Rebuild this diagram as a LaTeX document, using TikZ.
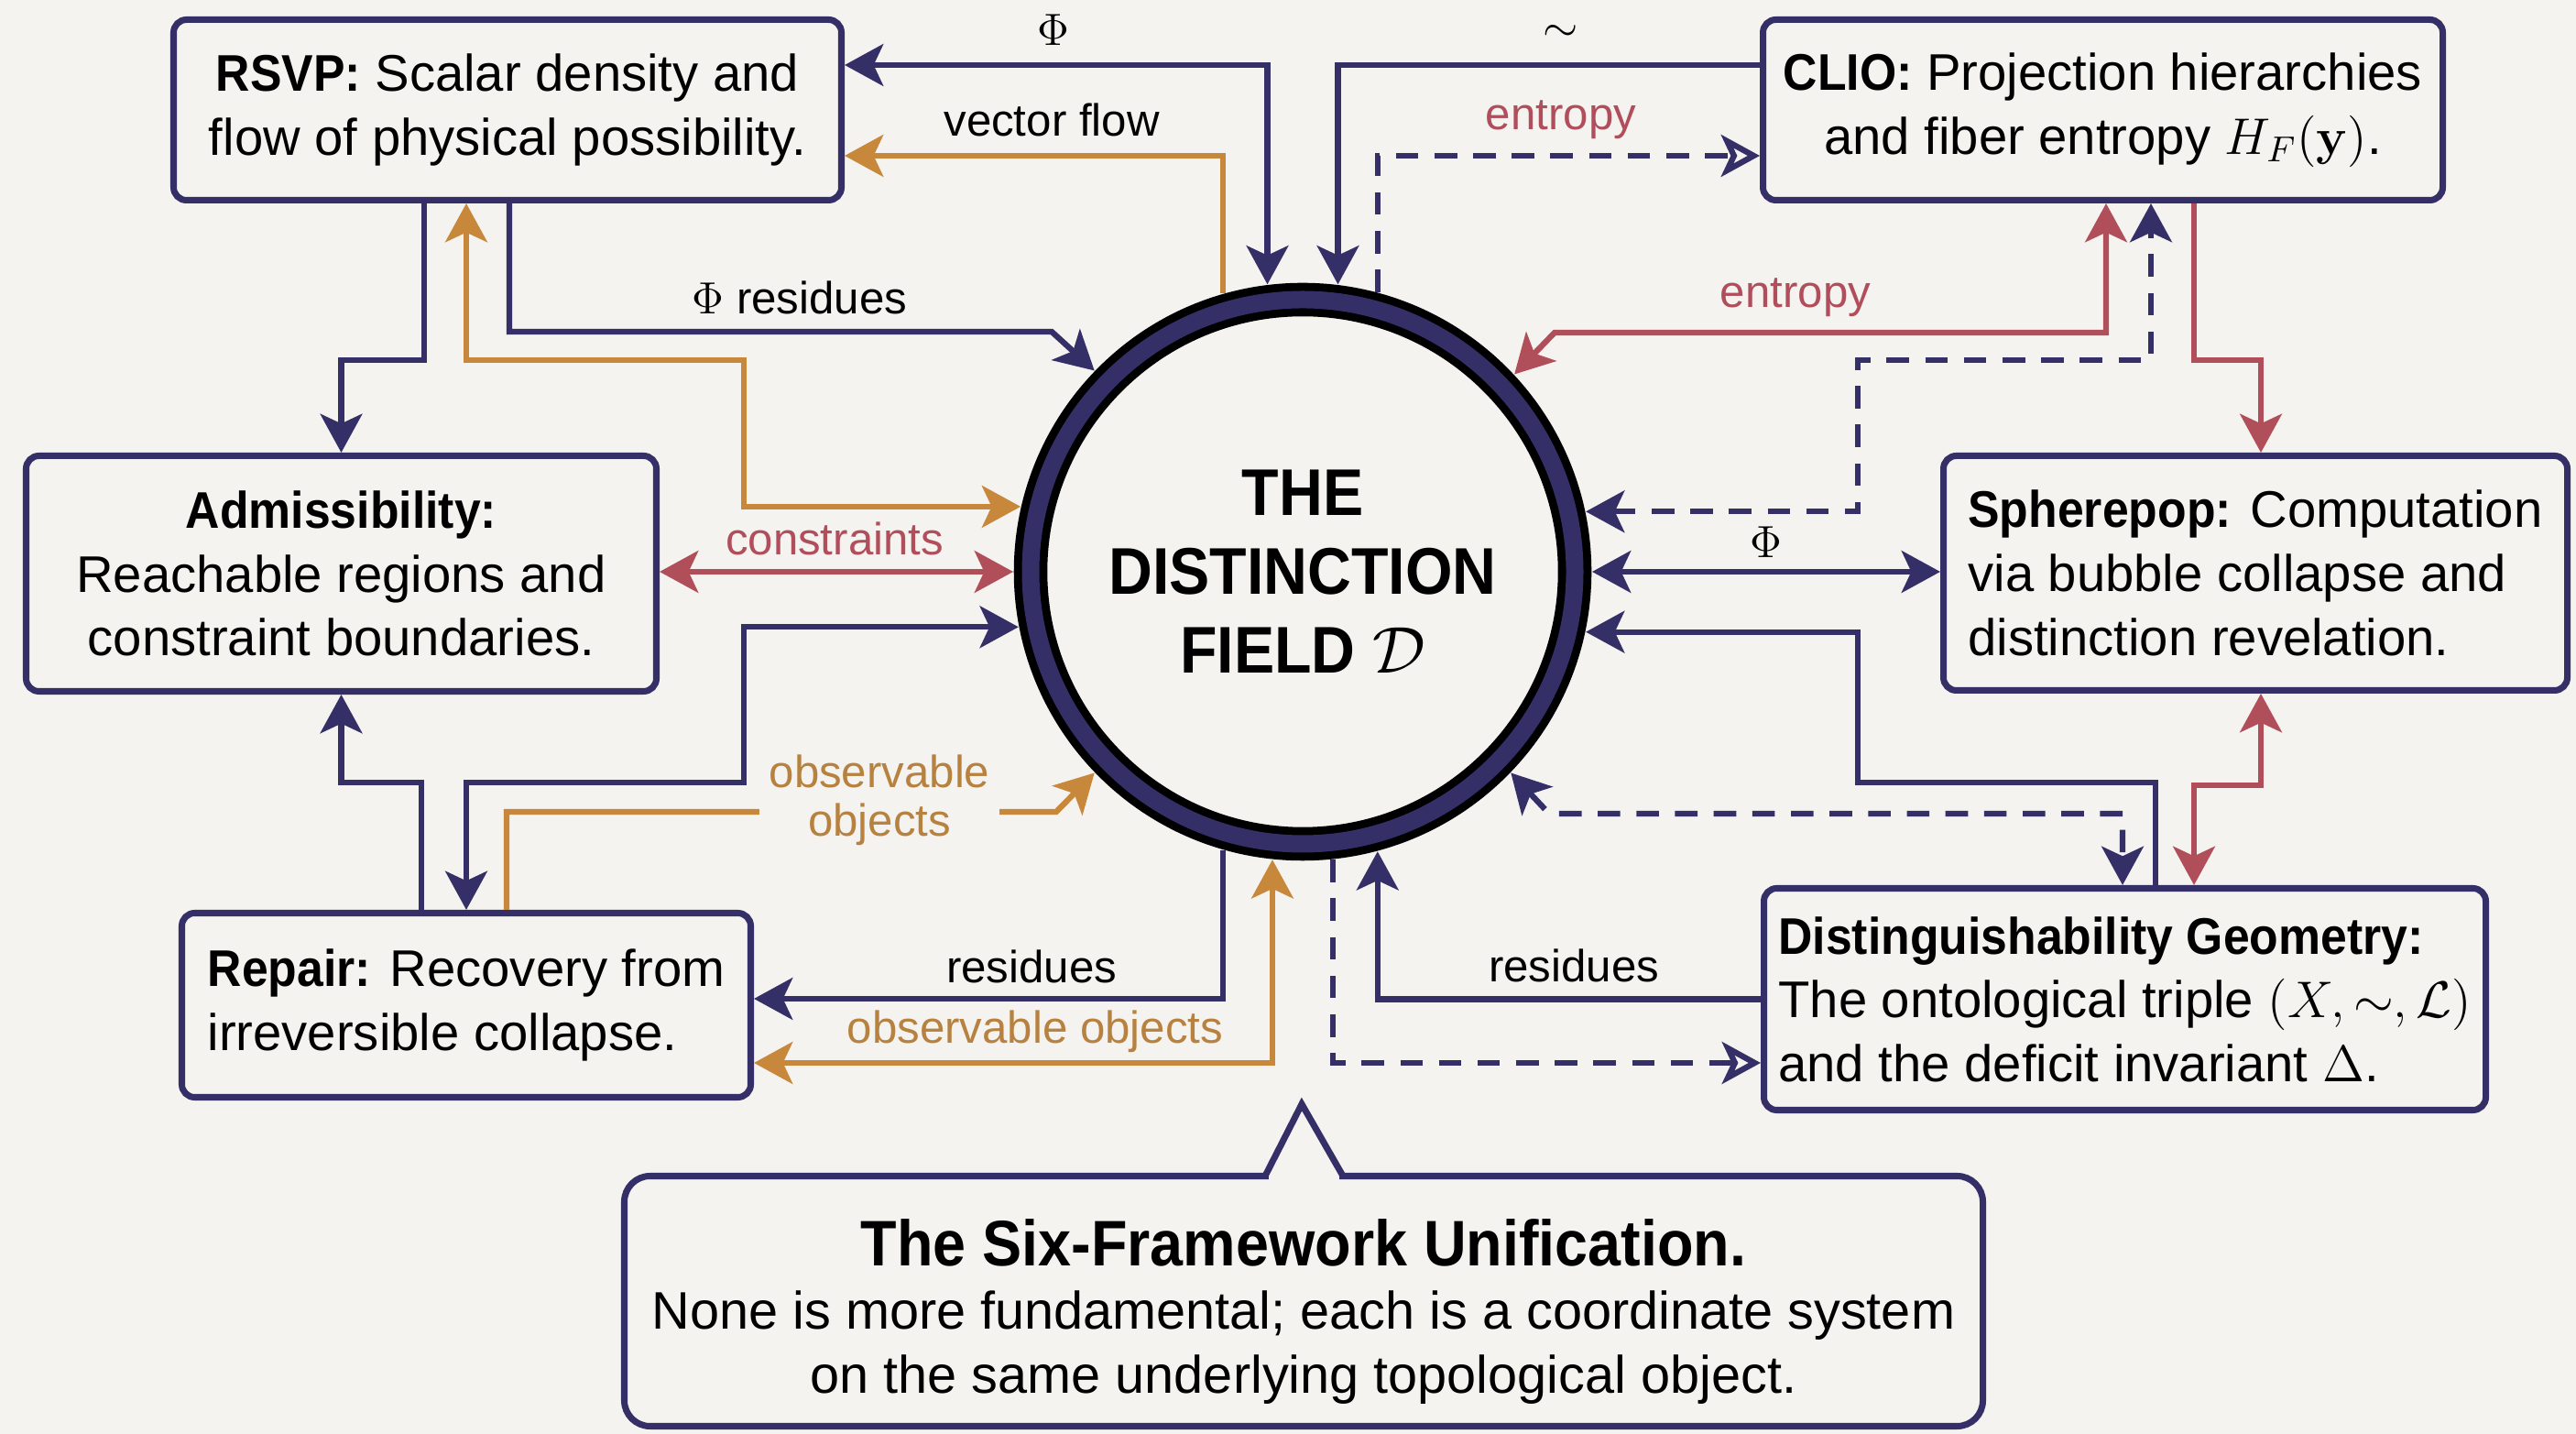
\RequirePackage{fix-cm}
\documentclass[tikz,border=0pt]{standalone}
\usepackage{amsmath}
\usepackage[no-math]{fontspec}
\setmainfont{Liberation Sans}[BoldFeatures={FakeStretch=0.92}]
\usetikzlibrary{arrows.meta}
\definecolor{dfnavy}{HTML}{352F68}
\definecolor{dforange}{HTML}{C8883C}
\definecolor{dfred}{HTML}{B04F5A}
\definecolor{dforanget}{HTML}{B7813F}
\definecolor{dfredt}{HTML}{B04E5C}
\definecolor{dfbg}{HTML}{F4F3EF}
\tikzset{
  nv/.style={draw=dfnavy},
  org/.style={draw=dforange},
  rd/.style={draw=dfred},
  dashline/.style={dash pattern=on 7pt off 5pt},
  lbl/.style={font=\fontsize{14}{15}\selectfont, inner sep=1pt},
  openhead/.style={-{Stealth[open,length=12pt,width=13pt,inset=3pt]}}
}

\begin{document}
\begin{tikzpicture}[>={Stealth[length=12pt,width=13pt,inset=3pt]}, line width=1.8pt]
   \fill[dfbg] (0,0) rectangle (28.12,15.65);
   \useasboundingbox (0,0) rectangle (28.12,15.65);
   \begin{scope}[every node/.style={draw=dfnavy,line width=2pt,rounded corners=4pt,fill=dfbg,font=\fontsize{16}{19.8}\selectfont}]
    \node (rsvp) [minimum width=7.29cm, minimum height=1.97cm, align=center] at (5.54,14.45) {\textbf{RSVP:} Scalar density and\\flow of physical possibility.};
    \node (clio) [minimum width=7.42cm, minimum height=1.97cm, align=center] at (22.955,14.45) {\textbf{CLIO:} Projection hierarchies\\and fiber entropy $H_F(\mathbf{y})$.};
    \node (adm) [minimum width=6.88cm, minimum height=2.57cm, align=center] at (3.725,9.39) {\textbf{Admissibility:}\\Reachable regions and\\constraint boundaries.};
    \node (sph) [minimum width=6.81cm, minimum height=2.56cm, align=left] at (24.62,9.395) {\textbf{Spherepop:} Computation\\via bubble collapse and\\distinction revelation.};
    \node (rep) [minimum width=6.21cm, minimum height=2.01cm, align=left] at (5.09,4.68) {\textbf{Repair:} Recovery from\\irreversible collapse.};
    \node (dg) [minimum width=7.88cm, minimum height=2.42cm, align=left] at (23.195,4.745) {\textbf{Distinguishability Geometry:}\\The ontological triple $(X,{\sim},\mathcal{L})$\\and the deficit invariant $\Delta$.};
   \end{scope}
   \node (D) [circle, draw=black, line width=2.5pt, double=dfnavy, double distance=5.4pt, fill=dfbg, minimum size=5.94cm, inner sep=0pt, outer sep=0.19cm, align=center, font=\fontsize{20.5}{24.5}\selectfont\bfseries] at (14.22,9.41) {THE\\DISTINCTION\\FIELD $\mathcal{D}$};
   \node (note) [draw=dfnavy, line width=2pt, rounded corners=8pt, fill=dfbg, minimum width=14.83cm, minimum height=2.73cm, align=center, font=\fontsize{16.4}{20}\selectfont] at (14.23,1.45) {{\fontsize{20}{21}\selectfont\bfseries\rule{0pt}{21pt}The Six-Framework Unification.}\\[-0.5pt]None is more fundamental; each is a coordinate system\\on the same underlying topological object.};
   \coordinate (tip) at (14.21,3.60);
   \fill[dfbg] ([xshift=-0.38cm,yshift=-0.1cm]note.north) rectangle ([xshift=0.39cm,yshift=0.05cm]note.north);
   \draw[nv, line width=2pt] ([xshift=-0.42cm,yshift=-0.035cm]note.north) -- (tip) -- ([xshift=0.43cm,yshift=-0.035cm]note.north);

   \draw[nv,<->] (D.97) |- (rsvp.east |- 0,14.94);
   \draw[org,->] (D.106) |- ([yshift=-5mm]rsvp.east);
   \draw[nv,->] (clio.west |- 0,14.94) -| (D.83);
   \draw[nv,dashline,openhead] (D.75) |- ([yshift=-5mm]clio.west);
   \draw[nv,->] (rsvp.south -| 5.56,0) |- (11.48,12.03) -- (D.136);
   \draw[nv,->] (rsvp.south -| 4.63,0) -- (4.63,11.72) -| (adm.north);
   \draw[org,<->] (rsvp.south -| 5.09,0) |- (8.12,11.72) |- (D.167);
   \draw[rd,<->] (adm.east |- D.west) -- (D.west);
   \draw[nv,<->] (rep.north -| 5.09,0) |- (8.12,7.11) |- (D.191);
   \draw[nv,->] (rep.north -| 4.60,0) -- (4.60,7.11) -| (adm.south);
   \draw[org,->] (rep.north -| 5.53,0) |- (11.53,6.79) -- (D.224);
   \draw[nv,->] (D.254) |- (rep.east |- 0,4.75);
   \draw[org,<->] (rep.east |- 0,4.05) -| (D.264);
   \draw[nv,dashline,openhead] (D.276) |- (dg.west |- 0,4.05);
   \draw[nv,->] (dg.west) -| (D.285);
   \draw[nv,dashline,<->] (D.316) -- (16.91,6.77) -| (dg.north -| 23.17,0);
   \draw[nv,->] (dg.north -| 23.53,0) |- (20.28,7.11) |- (D.348);
   \draw[rd,<->] (dg.north -| 23.95,0) |- (24.68,7.08) -- (sph.south -| 24.68,0);
   \draw[nv,<->] (D.east) -- (sph.west |- D.east);
   \draw[nv,dashline,<->] (D.12) -| (20.28,11.72) -| (clio.south -| 23.48,0);
   \draw[rd,<->] (clio.south -| 22.99,0) |- (16.97,12.02) -- (D.43);
   \draw[rd,->] (clio.south -| 23.95,0) |- (24.68,11.72) -- (sph.north -| 24.68,0);

   \node[lbl] (lphia) at (11.50,15.32) {$\Phi$};
   \node[lbl] (lvf) at (11.48,14.34) {vector flow};
   \node[lbl] (lsim) at (17.04,15.29) {$\sim$};
   \node[lbl,text=dfredt] (lenta) at (17.04,14.34) {entropy};
   \node[lbl] (lphires) at (8.73,12.40) {$\Phi$\ residues};
   \node[lbl,text=dfredt] (lcon) at (9.11,9.77) {constraints};
   \node[lbl,text=dforanget,fill=dfbg,inner xsep=3pt,align=center] (lobsa) at (9.60,6.92) {observable\\objects};
   \node[lbl] (lresa) at (11.26,5.10) {residues};
   \node[lbl,text=dforanget] (lobsb) at (11.30,4.39) {observable objects};
   \node[lbl] (lresb) at (17.18,5.11) {residues};
   \node[lbl,text=dfredt] (lentb) at (19.60,12.40) {entropy};
   \node[lbl] (lphib) at (19.28,9.73) {$\Phi$};
\end{tikzpicture}
\end{document}
